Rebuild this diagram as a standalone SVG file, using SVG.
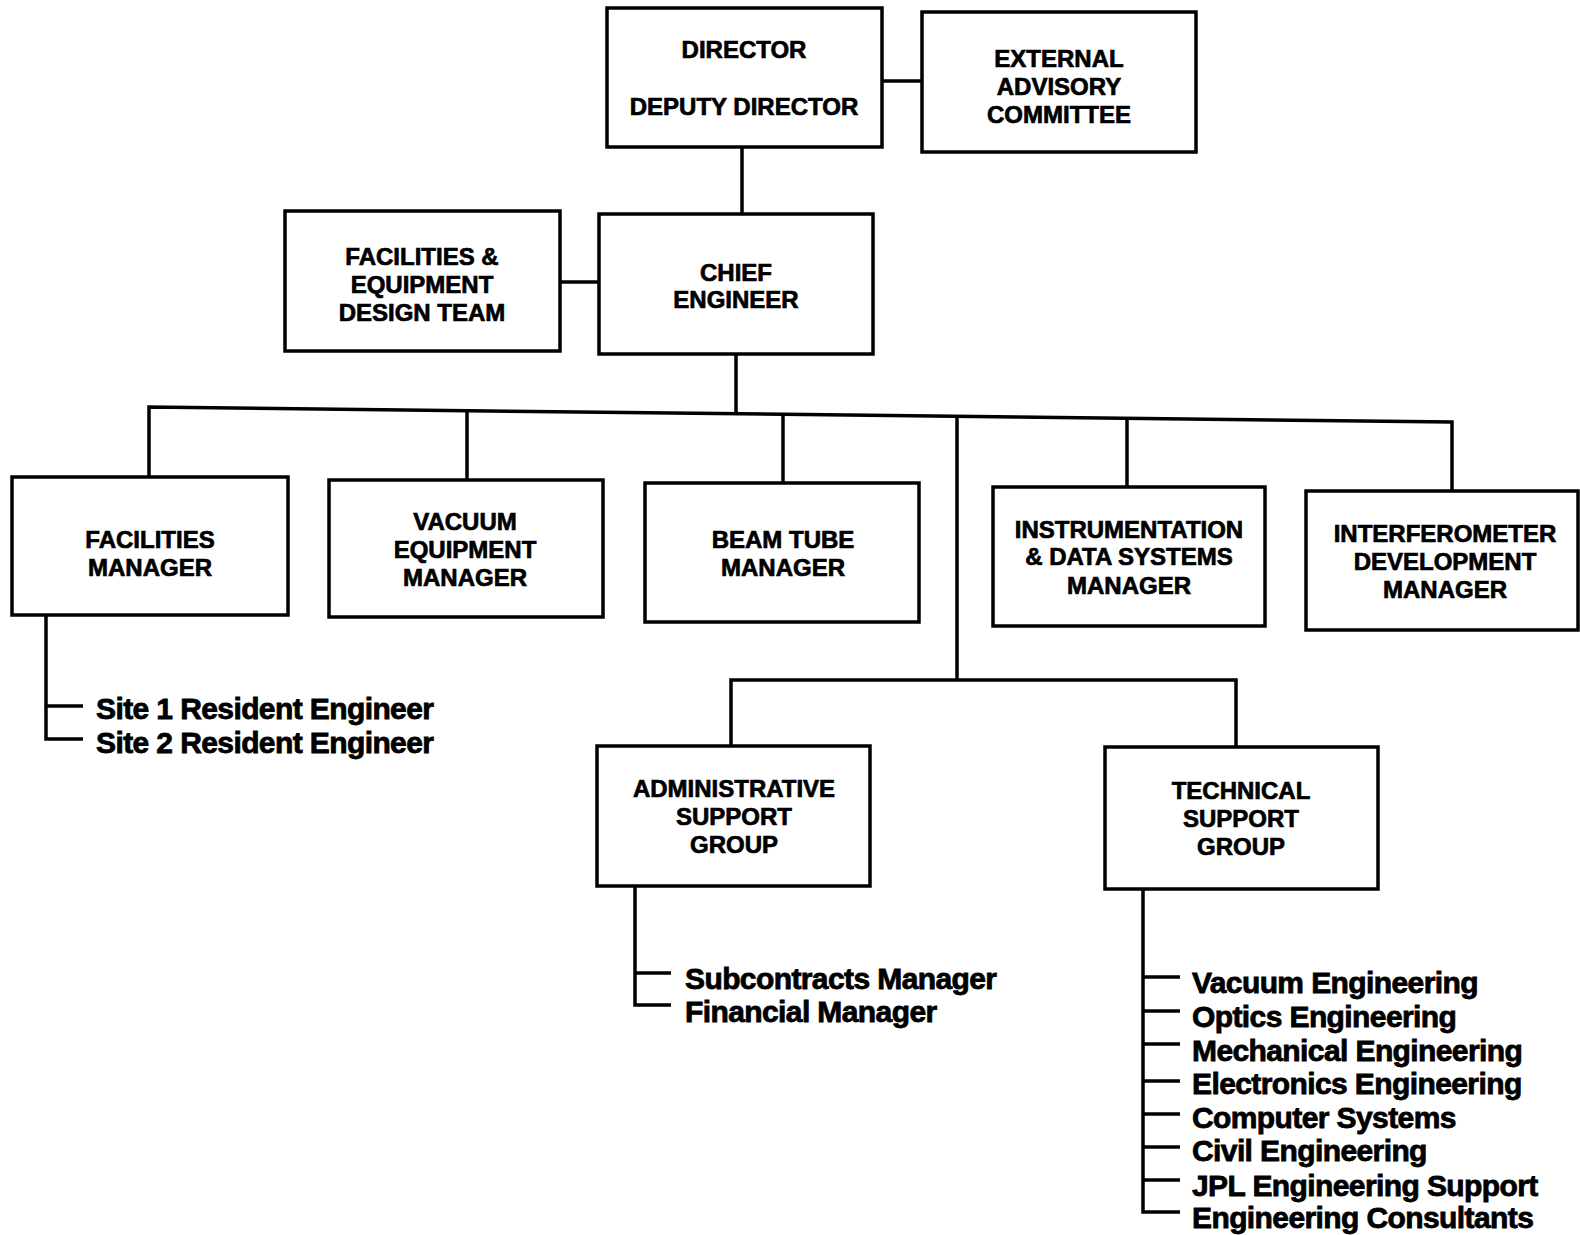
<svg xmlns="http://www.w3.org/2000/svg" width="1580" height="1235" viewBox="0 0 1580 1235">
<style>
.box{fill:#fff;stroke:#000;stroke-width:3.5}
.t{font-family:"Liberation Sans",Arial,sans-serif;font-weight:bold;font-size:24px;text-anchor:middle;fill:#000;stroke:#000;stroke-width:0.7}
.l{font-family:"Liberation Sans",Arial,sans-serif;font-weight:bold;font-size:30px;letter-spacing:-0.6px;fill:#000;stroke:#000;stroke-width:0.8}
.c{fill:none;stroke:#000;stroke-width:3.5}
</style>
<rect width="1580" height="1235" fill="#fff"/>
<g id="connectors" class="c">
<line x1="882" y1="81" x2="922" y2="81"/>
<line x1="742" y1="147" x2="742" y2="214"/>
<line x1="560" y1="282" x2="599" y2="282"/>
<line x1="736" y1="354" x2="736" y2="413"/>
<polyline points="149,477 149,407 1452,422 1452,491"/>
<line x1="467" y1="410.7" x2="467" y2="480"/>
<line x1="783" y1="414.3" x2="783" y2="483"/>
<line x1="957" y1="416.3" x2="957" y2="680"/>
<line x1="1127" y1="418.3" x2="1127" y2="488"/>
<polyline points="731,746 731,680 1236,680 1236,748"/>
<polyline points="46,615 46,739 83,739"/>
<line x1="46" y1="706" x2="83" y2="706"/>
<polyline points="635,886 635,1005 671,1005"/>
<line x1="635" y1="973" x2="671" y2="973"/>
<polyline points="1143,889 1143,1212 1180,1212"/>
<line x1="1143" y1="977" x2="1180" y2="977"/>
<line x1="1143" y1="1011" x2="1180" y2="1011"/>
<line x1="1143" y1="1044" x2="1180" y2="1044"/>
<line x1="1143" y1="1081" x2="1180" y2="1081"/>
<line x1="1143" y1="1114" x2="1180" y2="1114"/>
<line x1="1143" y1="1147" x2="1180" y2="1147"/>
<line x1="1143" y1="1180" x2="1180" y2="1180"/>
</g>
<g id="director"><rect class="box" x="607" y="8" width="275" height="139"/>
<text class="t" x="744" y="58">DIRECTOR</text><text class="t" x="744" y="115">DEPUTY DIRECTOR</text></g>
<g id="advisory"><rect class="box" x="922" y="12" width="274" height="140"/>
<text class="t" x="1059" y="67">EXTERNAL</text><text class="t" x="1059" y="95">ADVISORY</text><text class="t" x="1059" y="123">COMMITTEE</text></g>
<g id="design-team"><rect class="box" x="285" y="211" width="275" height="140"/>
<text class="t" x="422" y="265">FACILITIES &amp;</text><text class="t" x="422" y="293">EQUIPMENT</text><text class="t" x="422" y="321">DESIGN TEAM</text></g>
<g id="chief"><rect class="box" x="599" y="214" width="274" height="140"/>
<text class="t" x="736" y="281">CHIEF</text><text class="t" x="736" y="308">ENGINEER</text></g>
<g id="facilities"><rect class="box" x="12" y="477" width="276" height="138"/>
<text class="t" x="150" y="548">FACILITIES</text><text class="t" x="150" y="576">MANAGER</text></g>
<g id="vacuum"><rect class="box" x="329" y="480" width="274" height="137"/>
<text class="t" x="465" y="530">VACUUM</text><text class="t" x="465" y="558">EQUIPMENT</text><text class="t" x="465" y="586">MANAGER</text></g>
<g id="beamtube"><rect class="box" x="645" y="483" width="274" height="139"/>
<text class="t" x="783" y="548">BEAM TUBE</text><text class="t" x="783" y="576">MANAGER</text></g>
<g id="instrumentation"><rect class="box" x="993" y="487" width="272" height="139"/>
<text class="t" x="1129" y="538">INSTRUMENTATION</text><text class="t" x="1129" y="565">&amp; DATA SYSTEMS</text><text class="t" x="1129" y="594">MANAGER</text></g>
<g id="interferometer"><rect class="box" x="1306" y="491" width="272" height="139"/>
<text class="t" x="1445" y="542">INTERFEROMETER</text><text class="t" x="1445" y="570">DEVELOPMENT</text><text class="t" x="1445" y="598">MANAGER</text></g>
<g id="admin"><rect class="box" x="597" y="746" width="273" height="140"/>
<text class="t" x="734" y="797">ADMINISTRATIVE</text><text class="t" x="734" y="825">SUPPORT</text><text class="t" x="734" y="853">GROUP</text></g>
<g id="technical"><rect class="box" x="1105" y="747" width="273" height="142"/>
<text class="t" x="1241" y="799">TECHNICAL</text><text class="t" x="1241" y="827">SUPPORT</text><text class="t" x="1241" y="855">GROUP</text></g>
<g id="site-list">
<text class="l" x="96" y="719">Site 1 Resident Engineer</text>
<text class="l" x="96" y="753">Site 2 Resident Engineer</text></g>
<g id="admin-list">
<text class="l" x="685" y="989">Subcontracts Manager</text>
<text class="l" x="685" y="1022">Financial Manager</text></g>
<g id="technical-list">
<text class="l" x="1192" y="993">Vacuum Engineering</text>
<text class="l" x="1192" y="1027">Optics Engineering</text>
<text class="l" x="1192" y="1061">Mechanical Engineering</text>
<text class="l" x="1192" y="1094">Electronics Engineering</text>
<text class="l" x="1192" y="1128">Computer Systems</text>
<text class="l" x="1192" y="1161">Civil Engineering</text>
<text class="l" x="1192" y="1196">JPL Engineering Support</text>
<text class="l" x="1192" y="1228">Engineering Consultants</text></g>
</svg>
